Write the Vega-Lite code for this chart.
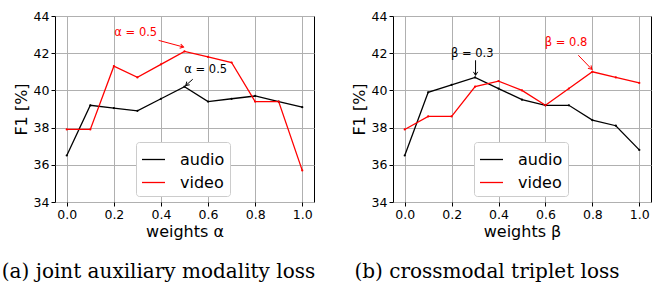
{
  "$schema": "https://vega.github.io/schema/vega-lite/v6.json",
  "padding": {"left": 1, "top": 9, "right": 5, "bottom": 0},
  "spacing": 34,
  "datasets": {
    "curves": [
      {"panel": "a", "series": "audio", "weight": 0.0, "f1": 36.5},
      {"panel": "a", "series": "audio", "weight": 0.1, "f1": 39.2},
      {"panel": "a", "series": "audio", "weight": 0.2, "f1": 39.05},
      {"panel": "a", "series": "audio", "weight": 0.3, "f1": 38.9},
      {"panel": "a", "series": "audio", "weight": 0.4, "f1": 39.55},
      {"panel": "a", "series": "audio", "weight": 0.5, "f1": 40.2},
      {"panel": "a", "series": "audio", "weight": 0.6, "f1": 39.4},
      {"panel": "a", "series": "audio", "weight": 0.7, "f1": 39.55},
      {"panel": "a", "series": "audio", "weight": 0.8, "f1": 39.7},
      {"panel": "a", "series": "audio", "weight": 0.9, "f1": 39.4},
      {"panel": "a", "series": "audio", "weight": 1.0, "f1": 39.1},
      {"panel": "a", "series": "video", "weight": 0.0, "f1": 37.9},
      {"panel": "a", "series": "video", "weight": 0.1, "f1": 37.9},
      {"panel": "a", "series": "video", "weight": 0.2, "f1": 41.3},
      {"panel": "a", "series": "video", "weight": 0.3, "f1": 40.7},
      {"panel": "a", "series": "video", "weight": 0.4, "f1": 41.4},
      {"panel": "a", "series": "video", "weight": 0.5, "f1": 42.1},
      {"panel": "a", "series": "video", "weight": 0.6, "f1": 41.8},
      {"panel": "a", "series": "video", "weight": 0.7, "f1": 41.5},
      {"panel": "a", "series": "video", "weight": 0.8, "f1": 39.4},
      {"panel": "a", "series": "video", "weight": 0.9, "f1": 39.4},
      {"panel": "a", "series": "video", "weight": 1.0, "f1": 35.7},
      {"panel": "b", "series": "audio", "weight": 0.0, "f1": 36.5},
      {"panel": "b", "series": "audio", "weight": 0.1, "f1": 39.9},
      {"panel": "b", "series": "audio", "weight": 0.2, "f1": 40.3},
      {"panel": "b", "series": "audio", "weight": 0.3, "f1": 40.7},
      {"panel": "b", "series": "audio", "weight": 0.4, "f1": 40.1},
      {"panel": "b", "series": "audio", "weight": 0.5, "f1": 39.5},
      {"panel": "b", "series": "audio", "weight": 0.6, "f1": 39.2},
      {"panel": "b", "series": "audio", "weight": 0.7, "f1": 39.2},
      {"panel": "b", "series": "audio", "weight": 0.8, "f1": 38.4},
      {"panel": "b", "series": "audio", "weight": 0.9, "f1": 38.1},
      {"panel": "b", "series": "audio", "weight": 1.0, "f1": 36.8},
      {"panel": "b", "series": "video", "weight": 0.0, "f1": 37.9},
      {"panel": "b", "series": "video", "weight": 0.1, "f1": 38.6},
      {"panel": "b", "series": "video", "weight": 0.2, "f1": 38.6},
      {"panel": "b", "series": "video", "weight": 0.3, "f1": 40.2},
      {"panel": "b", "series": "video", "weight": 0.4, "f1": 40.5},
      {"panel": "b", "series": "video", "weight": 0.5, "f1": 40.0},
      {"panel": "b", "series": "video", "weight": 0.6, "f1": 39.2},
      {"panel": "b", "series": "video", "weight": 0.7, "f1": 40.1},
      {"panel": "b", "series": "video", "weight": 0.8, "f1": 41.0},
      {"panel": "b", "series": "video", "weight": 0.9, "f1": 40.7},
      {"panel": "b", "series": "video", "weight": 1.0, "f1": 40.4}
    ],
    "notes": [
      {"panel": "a", "series": "video", "label": "α = 0.5", "tx": 0.293, "ty": 43.07, "ax": 0.39, "ay": 42.69, "hx": 0.496, "hy": 42.33},
      {"panel": "a", "series": "audio", "label": "α = 0.5", "tx": 0.59, "ty": 41.08, "ax": 0.535, "ay": 40.6, "hx": 0.505, "hy": 40.26},
      {"panel": "b", "series": "audio", "label": "β = 0.3", "tx": 0.288, "ty": 41.98, "ax": 0.302, "ay": 41.62, "hx": 0.302, "hy": 40.81},
      {"panel": "b", "series": "video", "label": "β = 0.8", "tx": 0.688, "ty": 42.55, "ax": 0.74, "ay": 41.89, "hx": 0.798, "hy": 41.13}
    ]
  },
  "hconcat": [
    {
      "width": 259, "height": 186,
      "title": {"text": "(a) joint auxiliary modality loss", "dx": -26},
      "layer": [
        {
          "data": {"name": "curves"},
          "transform": [{"filter": "datum.panel === 'a'"}],
          "mark": {"type": "line", "strokeWidth": 1.3, "point": {"filled": true, "size": 5}},
          "encoding": {
            "x": {"field": "weight", "type": "quantitative", "scale": {"domain": [-0.05, 1.05], "nice": false, "zero": false}, "axis": {"values": [0, 0.2, 0.4, 0.6, 0.8, 1.0], "format": ".1f", "title": "weights α"}},
            "y": {"field": "f1", "type": "quantitative", "scale": {"domain": [34, 44], "nice": false, "zero": false}, "axis": {"values": [34, 36, 38, 40, 42, 44], "format": "d", "title": "F1 [%]"}},
            "color": {"field": "series", "type": "nominal", "scale": {"domain": ["audio", "video"], "range": ["black", "#ff0000"]}, "legend": {"orient": "none", "legendX": 81, "legendY": 126, "title": null}}
          }
        },
        {
          "data": {"name": "notes"},
          "transform": [{"filter": "datum.panel === 'a'"}],
          "mark": {"type": "rule", "strokeWidth": 1},
          "encoding": {
            "x": {"field": "ax", "type": "quantitative", "axis": {"values": [0, 0.2, 0.4, 0.6, 0.8, 1.0], "format": ".1f", "title": "weights α"}},
            "y": {"field": "ay", "type": "quantitative", "axis": {"values": [34, 36, 38, 40, 42, 44], "format": "d", "title": "F1 [%]"}},
            "x2": {"field": "hx"},
            "y2": {"field": "hy"},
            "color": {"field": "series", "type": "nominal"}
          }
        },
        {
          "data": {"name": "notes"},
          "transform": [{"filter": "datum.panel === 'a' && datum.series === 'video'"}],
          "mark": {"type": "point", "shape": "M -0.55 0.9 L 0 0 L 0.55 0.9", "filled": false, "strokeWidth": 1, "size": 60, "angle": 105, "opacity": 1},
          "encoding": {
            "x": {"field": "hx", "type": "quantitative", "axis": {"values": [0, 0.2, 0.4, 0.6, 0.8, 1.0], "format": ".1f", "title": "weights α"}},
            "y": {"field": "hy", "type": "quantitative", "axis": {"values": [34, 36, 38, 40, 42, 44], "format": "d", "title": "F1 [%]"}},
            "color": {"field": "series", "type": "nominal"}
          }
        },
        {
          "data": {"name": "notes"},
          "transform": [{"filter": "datum.panel === 'a' && datum.series === 'audio'"}],
          "mark": {"type": "point", "shape": "M -0.55 0.9 L 0 0 L 0.55 0.9", "filled": false, "strokeWidth": 1, "size": 60, "angle": 228, "opacity": 1},
          "encoding": {
            "x": {"field": "hx", "type": "quantitative", "axis": {"values": [0, 0.2, 0.4, 0.6, 0.8, 1.0], "format": ".1f", "title": "weights α"}},
            "y": {"field": "hy", "type": "quantitative", "axis": {"values": [34, 36, 38, 40, 42, 44], "format": "d", "title": "F1 [%]"}},
            "color": {"field": "series", "type": "nominal"}
          }
        },
        {
          "data": {"name": "notes"},
          "transform": [{"filter": "datum.panel === 'a'"}],
          "mark": {"type": "text", "fontSize": 11.5, "align": "center", "baseline": "middle"},
          "encoding": {
            "x": {"field": "tx", "type": "quantitative", "axis": {"values": [0, 0.2, 0.4, 0.6, 0.8, 1.0], "format": ".1f", "title": "weights α"}},
            "y": {"field": "ty", "type": "quantitative", "axis": {"values": [34, 36, 38, 40, 42, 44], "format": "d", "title": "F1 [%]"}},
            "text": {"field": "label"},
            "color": {"field": "series", "type": "nominal"}
          }
        }
      ]
    },
    {
      "width": 258, "height": 186,
      "title": {"text": "(b) crossmodal triplet loss", "dx": -35},
      "layer": [
        {
          "data": {"name": "curves"},
          "transform": [{"filter": "datum.panel === 'b'"}],
          "mark": {"type": "line", "strokeWidth": 1.3, "point": {"filled": true, "size": 5}},
          "encoding": {
            "x": {"field": "weight", "type": "quantitative", "scale": {"domain": [-0.05, 1.05], "nice": false, "zero": false}, "axis": {"values": [0, 0.2, 0.4, 0.6, 0.8, 1.0], "format": ".1f", "title": "weights β"}},
            "y": {"field": "f1", "type": "quantitative", "scale": {"domain": [34, 44], "nice": false, "zero": false}, "axis": {"values": [34, 36, 38, 40, 42, 44], "format": "d", "title": "F1 [%]"}},
            "color": {"field": "series", "type": "nominal", "scale": {"domain": ["audio", "video"], "range": ["black", "#ff0000"]}, "legend": {"orient": "none", "legendX": 81, "legendY": 126, "title": null}}
          }
        },
        {
          "data": {"name": "notes"},
          "transform": [{"filter": "datum.panel === 'b'"}],
          "mark": {"type": "rule", "strokeWidth": 1},
          "encoding": {
            "x": {"field": "ax", "type": "quantitative", "axis": {"values": [0, 0.2, 0.4, 0.6, 0.8, 1.0], "format": ".1f", "title": "weights β"}},
            "y": {"field": "ay", "type": "quantitative", "axis": {"values": [34, 36, 38, 40, 42, 44], "format": "d", "title": "F1 [%]"}},
            "x2": {"field": "hx"},
            "y2": {"field": "hy"},
            "color": {"field": "series", "type": "nominal"}
          }
        },
        {
          "data": {"name": "notes"},
          "transform": [{"filter": "datum.panel === 'b' && datum.series === 'audio'"}],
          "mark": {"type": "point", "shape": "M -0.55 0.9 L 0 0 L 0.55 0.9", "filled": false, "strokeWidth": 1, "size": 60, "angle": 180, "opacity": 1},
          "encoding": {
            "x": {"field": "hx", "type": "quantitative", "axis": {"values": [0, 0.2, 0.4, 0.6, 0.8, 1.0], "format": ".1f", "title": "weights β"}},
            "y": {"field": "hy", "type": "quantitative", "axis": {"values": [34, 36, 38, 40, 42, 44], "format": "d", "title": "F1 [%]"}},
            "color": {"field": "series", "type": "nominal"}
          }
        },
        {
          "data": {"name": "notes"},
          "transform": [{"filter": "datum.panel === 'b' && datum.series === 'video'"}],
          "mark": {"type": "point", "shape": "M -0.55 0.9 L 0 0 L 0.55 0.9", "filled": false, "strokeWidth": 1, "size": 60, "angle": 136, "opacity": 1},
          "encoding": {
            "x": {"field": "hx", "type": "quantitative", "axis": {"values": [0, 0.2, 0.4, 0.6, 0.8, 1.0], "format": ".1f", "title": "weights β"}},
            "y": {"field": "hy", "type": "quantitative", "axis": {"values": [34, 36, 38, 40, 42, 44], "format": "d", "title": "F1 [%]"}},
            "color": {"field": "series", "type": "nominal"}
          }
        },
        {
          "data": {"name": "notes"},
          "transform": [{"filter": "datum.panel === 'b'"}],
          "mark": {"type": "text", "fontSize": 11.5, "align": "center", "baseline": "middle"},
          "encoding": {
            "x": {"field": "tx", "type": "quantitative", "axis": {"values": [0, 0.2, 0.4, 0.6, 0.8, 1.0], "format": ".1f", "title": "weights β"}},
            "y": {"field": "ty", "type": "quantitative", "axis": {"values": [34, 36, 38, 40, 42, 44], "format": "d", "title": "F1 [%]"}},
            "text": {"field": "label"},
            "color": {"field": "series", "type": "nominal"}
          }
        }
      ]
    }
  ],
  "resolve": {"scale": {"color": "independent", "x": "independent", "y": "independent"}, "legend": {"color": "independent"}},
  "config": {
    "font": "DejaVu Sans",
    "view": {"stroke": "black", "strokeWidth": 1},
    "axis": {"domain": false, "grid": true, "gridColor": "#b0b0b0", "gridWidth": 1, "tickColor": "black", "tickSize": 4, "labelColor": "black", "labelFontSize": 12.5, "labelPadding": 2, "titleFontSize": 16, "titleFontWeight": "normal", "titleColor": "black", "titlePadding": 4},
    "axisX": {"titlePadding": 3},
    "legend": {"symbolType": "stroke", "symbolSize": 529, "symbolStrokeWidth": 1.3, "labelFontSize": 16, "labelColor": "black", "labelOffset": 14, "padding": 5, "rowPadding": 2, "strokeColor": "#cccccc", "fillColor": "white", "cornerRadius": 3},
    "title": {"orient": "bottom", "font": "DejaVu Serif", "fontSize": 20, "fontWeight": "normal", "color": "black", "offset": 22, "anchor": "middle", "frame": "group"}
  }
}
